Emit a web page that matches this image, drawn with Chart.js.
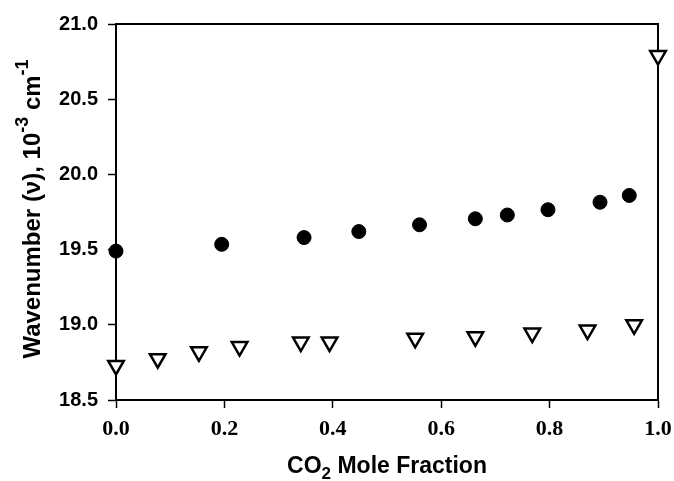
<!DOCTYPE html>
<html>
<head>
<meta charset="utf-8">
<script src="https://cdn.jsdelivr.net/npm/chart.js@4"></script>
<style>
    html, body { margin: 0; padding: 0; background: #fff; }
    #chart1 { display: block; }
</style>
</head>
<body>
<canvas id="chart1" width="674" height="481"></canvas>

<script>
    // filled circles
    const circleX = [0.0, 0.195, 0.347, 0.448, 0.560, 0.663, 0.722, 0.797, 0.893, 0.947];
    const circleY = [19.49, 19.535, 19.58, 19.62, 19.665, 19.705, 19.73, 19.765, 19.815, 19.86];

    // open triangles
    const triX = [0.0, 0.077, 0.153, 0.228, 0.341, 0.394, 0.552, 0.663, 0.768, 0.870, 0.956, 1.0];
    const triY = [18.73, 18.775, 18.82, 18.855, 18.885, 18.885, 18.91, 18.92, 18.945, 18.965, 19.0, 20.79];

    const xTicks = [0.0, 0.2, 0.4, 0.6, 0.8, 1.0];
    const yTicks = [18.5, 19.0, 19.5, 20.0, 20.5, 21.0];

    const xTitle = [{ t: 'CO' }, { t: '2', sub: true }, { t: ' Mole Fraction' }];
    const yTitle = [{ t: 'Wavenumber (\u03bd), 10' }, { t: '-3', sup: true }, { t: ' cm' }, { t: '-1', sup: true }];

    function drawRich(ctx, parts, size, cx, cy, angle) {
        const big = 'bold ' + size + 'px "Liberation Sans", Arial, sans-serif';
        const small = 'bold ' + Math.round(size * 0.75) + 'px "Liberation Sans", Arial, sans-serif';
        let total = 0;
        parts.forEach(p => {
            ctx.font = (p.sub || p.sup) ? small : big;
            p.w = ctx.measureText(p.t).width;
            total += p.w;
        });
        ctx.save();
        ctx.translate(cx, cy);
        ctx.rotate(angle);
        ctx.fillStyle = '#000';
        ctx.textBaseline = 'middle';
        ctx.textAlign = 'left';
        let x = -total / 2;
        parts.forEach(p => {
            ctx.font = (p.sub || p.sup) ? small : big;
            let dy = 0;
            if (p.sub) dy = size * 0.3;
            if (p.sup) dy = -size * 0.4;
            ctx.fillText(p.t, x, dy);
            x += p.w;
        });
        ctx.restore();
    }

    const framePlugin = {
        id: 'frame',
        beforeDatasetsDraw(chart) {
            const a = chart.chartArea;
            const ctx = chart.ctx;
            ctx.save();
            ctx.strokeStyle = '#000';
            ctx.lineWidth = 2;
            ctx.strokeRect(a.left, a.top, a.right - a.left, a.bottom - a.top);
            ctx.restore();
        },
        afterDraw(chart) {
            const a = chart.chartArea;
            const ctx = chart.ctx;
            drawRich(ctx, xTitle, 23, (a.left + a.right) / 2, 467, 0);
            drawRich(ctx, yTitle, 24, 33, 209, -Math.PI / 2);
        }
    };

    const ctx = document.getElementById('chart1');

    new Chart(ctx, {
        type: 'scatter',
        data: {
            datasets: [{
                data: circleX.map((x, i) => ({ x: x, y: circleY[i] })),
                pointStyle: 'circle',
                pointRadius: 7,
                backgroundColor: '#000',
                borderColor: '#000',
                borderWidth: 1,
                clip: false
            }, {
                data: triX.map((x, i) => ({ x: x, y: triY[i] })),
                pointStyle: 'triangle',
                rotation: 180,
                pointRadius: 9,
                backgroundColor: '#fff',
                borderColor: '#000',
                borderWidth: 2.5,
                clip: false
            }]
        },
        options: {
            responsive: false,
            animation: false,
            devicePixelRatio: 1,
            layout: { padding: { top: 24, right: 16, left: 0, bottom: 0 } },
            plugins: {
                legend: { display: false },
                tooltip: { enabled: false }
            },
            scales: {
                x: {
                    type: 'linear',
                    min: 0,
                    max: 1,
                    afterFit: s => { s.height = 81; s.paddingLeft = 0; s.paddingRight = 0; },
                    afterBuildTicks: s => { s.ticks = xTicks.map(v => ({ value: v })); },
                    ticks: {
                        callback: v => v.toFixed(1),
                        color: '#000',
                        padding: 8,
                        maxRotation: 0,
                        font: { family: '"Liberation Serif", "Times New Roman", serif', size: 22, weight: 'bold' }
                    },
                    grid: { drawOnChartArea: false, drawTicks: true, tickLength: 8, tickColor: '#000', tickWidth: 1.5 },
                    border: { display: true, color: '#000', width: 2 }
                },
                y: {
                    min: 18.5,
                    max: 21,
                    afterFit: s => { s.width = 116; s.paddingTop = 0; s.paddingBottom = 0; },
                    afterBuildTicks: s => { s.ticks = yTicks.map(v => ({ value: v })); },
                    ticks: {
                        callback: v => v.toFixed(1),
                        color: '#000',
                        padding: 10,
                        font: { family: '"Liberation Sans", Arial, sans-serif', size: 20, weight: 'bold' }
                    },
                    grid: { drawOnChartArea: false, drawTicks: true, tickLength: 8, tickColor: '#000', tickWidth: 1.5 },
                    border: { display: true, color: '#000', width: 2 }
                }
            }
        },
        plugins: [framePlugin]
    });
</script>
</body>
</html>
